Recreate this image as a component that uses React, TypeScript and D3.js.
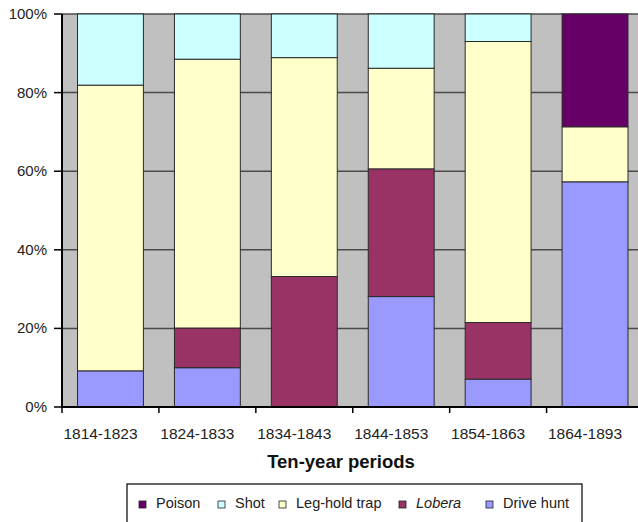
import React from "react";
import * as d3 from "d3";

const categories = ["1814-1823", "1824-1833", "1834-1843", "1844-1853", "1854-1863", "1864-1893"];
const seriesNames = ["Drive hunt", "Lobera", "Leg-hold trap", "Shot", "Poison"];
const driveHunt = [9.2, 10, 0, 28.1, 7.1, 57.3];
const lobera = [0, 10.1, 33.2, 32.5, 14.4, 0];
const legHold = [72.7, 68.4, 55.7, 25.6, 71.5, 14];
const shot = [18.1, 11.5, 11.1, 13.8, 7, 0];
const poison = [0, 0, 0, 0, 0, 28.7];
const yTicks = [0, 20, 40, 60, 80, 100];
const legendOrder = ["Poison", "Shot", "Leg-hold trap", "Lobera", "Drive hunt"];

const colors: Record<string, string> = {
  "Drive hunt": "#9999ff",
  Lobera: "#993366",
  "Leg-hold trap": "#ffffcc",
  Shot: "#ccffff",
  Poison: "#660066",
};

const W = 638;
const H = 522;
const left = 62;
const right = 643.5;
const top = 14;
const bottom = 407;
const FONT = "'Liberation Sans', Arial, sans-serif";
const legendX = [139, 218, 279, 399, 486];

export default function App() {
  const x = d3.scaleBand<string>().domain(categories).range([left, right]).paddingInner(0.32).paddingOuter(0.16);
  const y = d3.scaleLinear().domain([0, 100]).range([bottom, top]);
  const valuesBy: Record<string, number[]> = {
    "Drive hunt": driveHunt,
    Lobera: lobera,
    "Leg-hold trap": legHold,
    Shot: shot,
    Poison: poison,
  };
  const table = categories.map((c, i) => {
    const row: any = { cat: c };
    seriesNames.forEach((s) => (row[s] = valuesBy[s][i]));
    return row;
  });
  const stacked = d3.stack<any>().keys(seriesNames)(table);
  const step = x.step();
  const boundaries = categories.map((_, i) => left + i * step).concat([left + categories.length * step]);

  return (
    <svg width={W} height={H} style={{ position: "absolute", left: 0, top: 0, background: "#fff" }}>
      <rect x={left} y={top} width={right - left} height={bottom - top} fill="#c0c0c0" />
      {yTicks.map((t) => (
        <line key={"g" + t} x1={left} x2={right} y1={y(t)} y2={y(t)} stroke="#4a4a4a" strokeWidth={1.5} />
      ))}
      {stacked.map((layer) => (
        <g key={layer.key}>
          {layer.map((d, i) =>
            d[1] - d[0] > 0 ? (
              <rect
                key={i}
                x={x(categories[i])!}
                y={y(d[1])}
                width={x.bandwidth()}
                height={y(d[0]) - y(d[1])}
                fill={colors[layer.key]}
                stroke="#2a2a2a"
                strokeWidth={1}
              />
            ) : null
          )}
        </g>
      ))}
      {/* axes */}
      <line x1={left} x2={left} y1={top} y2={bottom + 1} stroke="#000" strokeWidth={2} />
      <line x1={left - 1} x2={right} y1={bottom} y2={bottom} stroke="#000" strokeWidth={2} />
      {yTicks.map((t) => (
        <g key={"yt" + t}>
          <line x1={left - 8} x2={left} y1={y(t)} y2={y(t)} stroke="#000" strokeWidth={1.5} />
          <text x={47} y={y(t) + 5} textAnchor="end" fontFamily={FONT} fontSize={15} fill="#222">
            {t + "%"}
          </text>
        </g>
      ))}
      {boundaries.map((b, i) => (
        <line key={"xt" + i} x1={b} x2={b} y1={bottom} y2={bottom + 6} stroke="#000" strokeWidth={1.5} />
      ))}
      {categories.map((c) => (
        <text
          key={"xl" + c}
          x={x(c)! + x.bandwidth() / 2 - 10}
          y={439}
          textAnchor="middle"
          fontFamily={FONT}
          fontSize={15.5}
          fill="#222"
        >
          {c}
        </text>
      ))}
      <text x={341} y={468} textAnchor="middle" fontFamily={FONT} fontSize={18.5} fontWeight="bold" fill="#111">
        Ten-year periods
      </text>
      {/* legend */}
      <rect x={127} y={484} width={455} height={60} fill="#fff" stroke="#000" strokeWidth={1.2} />
      {legendOrder.map((s, i) => (
        <g key={"lg" + s}>
          <rect x={legendX[i]} y={501} width={7} height={7} fill={colors[s]} stroke="#222" strokeWidth={0.8} />
          <text
            x={legendX[i] + 17}
            y={508}
            fontFamily={FONT}
            fontSize={14.5}
            fontStyle={s === "Lobera" ? "italic" : "normal"}
            fill="#222"
          >
            {s}
          </text>
        </g>
      ))}
    </svg>
  );
}
